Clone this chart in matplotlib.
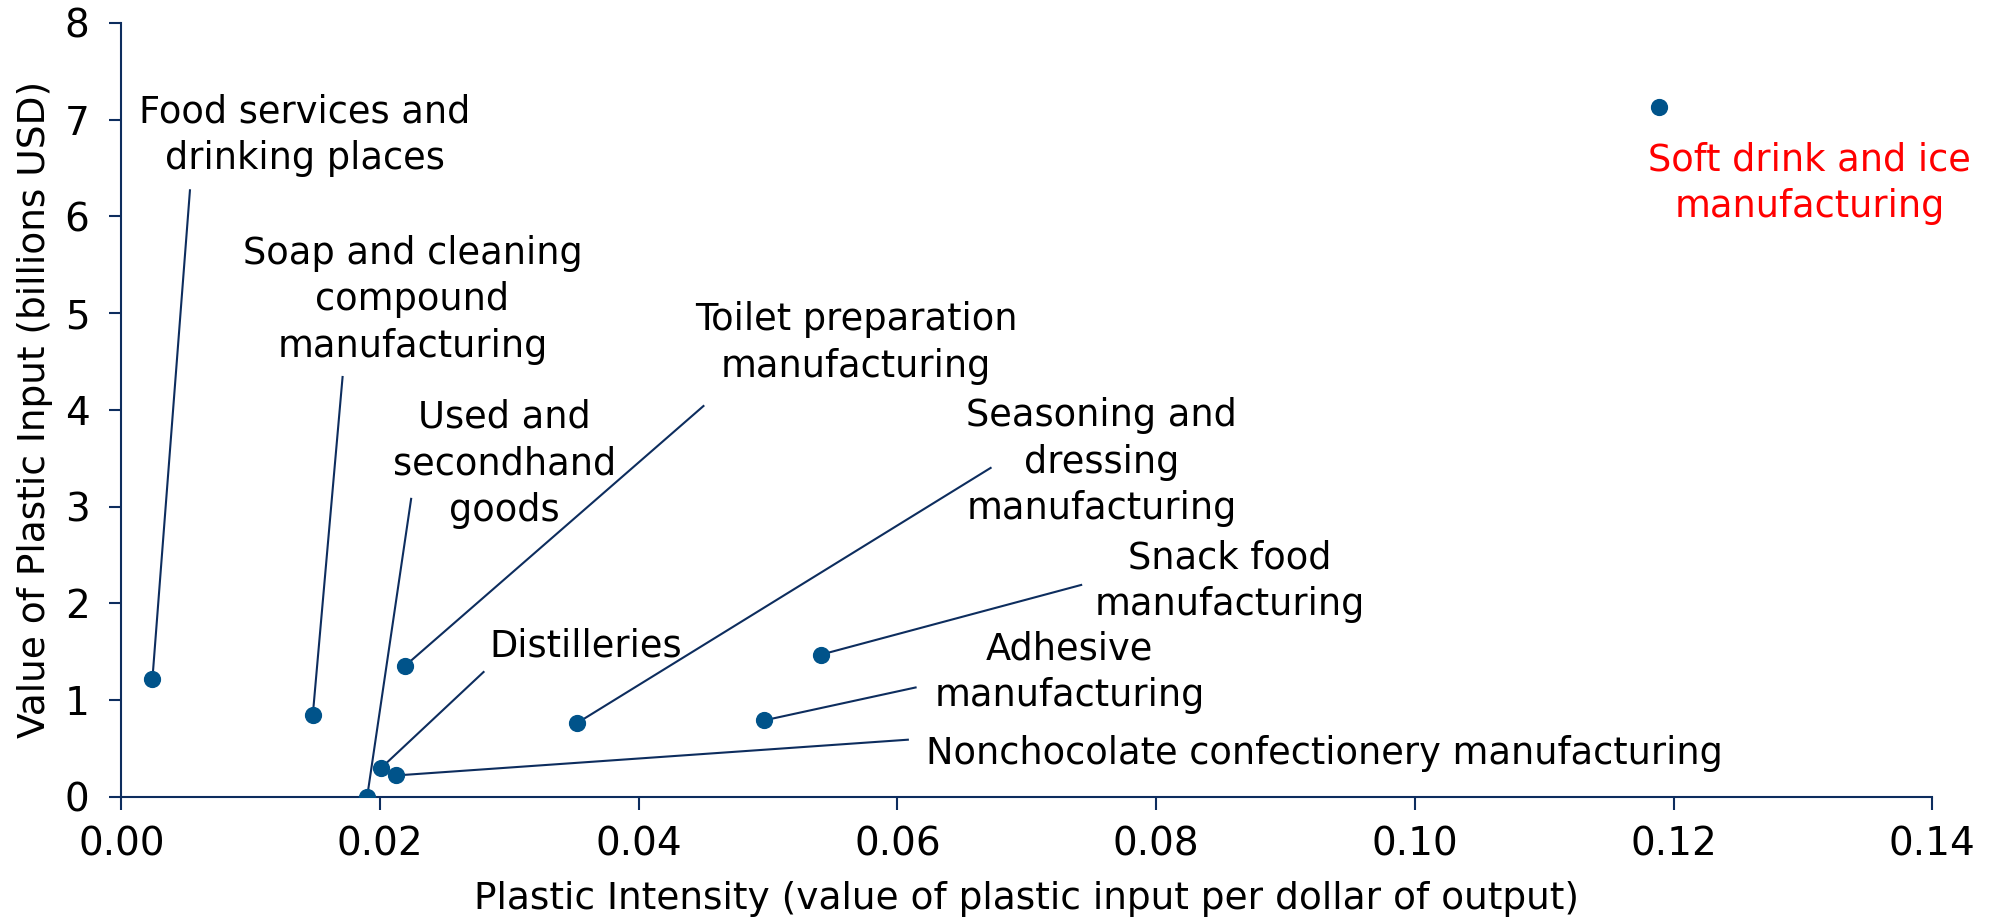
import matplotlib
matplotlib.use('Agg')
import matplotlib.pyplot as plt

# Data
sectors = [
    'Food services and\ndrinking places',
    'Soap and cleaning\ncompound\nmanufacturing',
    'Used and\nsecondhand\ngoods',
    'Distilleries',
    'Nonchocolate confectionery manufacturing',
    'Toilet preparation\nmanufacturing',
    'Seasoning and\ndressing\nmanufacturing',
    'Adhesive\nmanufacturing',
    'Snack food\nmanufacturing',
    'Soft drink and ice\nmanufacturing',
]
intensity = [0.0024, 0.0148, 0.0190, 0.0201, 0.0212, 0.0219, 0.0352, 0.0497, 0.0541, 0.1189]
plastic_value = [1.22, 0.85, 0.00, 0.30, 0.22, 1.35, 0.76, 0.79, 1.47, 7.13]

# Label layout (data coordinates): text anchor and leader-line start
label_pos = [
    (0.0142, 6.84), (0.0225, 5.14), (0.0296, 3.44), (0.0359, 1.56), (0.0622, 0.45),
    (0.0568, 4.69), (0.0758, 3.46), (0.0733, 1.29), (0.0857, 2.23), (0.1305, 6.34),
]
leader_start = [
    (0.0053, 6.27), (0.0171, 4.34), (0.0224, 3.08), (0.0280, 1.29), (0.0608, 0.59),
    (0.0450, 4.04), (0.0672, 3.40), (0.0614, 1.13), (0.0742, 2.19), None,
]

navy = '#0d2d5e'
dot = '#00538a'

plt.rcParams['font.family'] = ['DejaVu Sans']
fig, ax = plt.subplots(figsize=(19.9, 9.19), dpi=100)
fig.subplots_adjust(left=0.061, right=0.971, top=0.975, bottom=0.133)

ax.scatter(intensity, plastic_value, s=130, color=dot, zorder=3)

for i, name in enumerate(sectors):
    if leader_start[i] is not None:
        ax.plot([leader_start[i][0], intensity[i]], [leader_start[i][1], plastic_value[i]],
                color=navy, lw=1.5, zorder=2)
    color = 'red' if i == len(sectors) - 1 else 'black'
    ha = 'left' if name.startswith('Nonchocolate') else 'center'
    ax.text(label_pos[i][0], label_pos[i][1], name, ha=ha, va='center', fontsize=26.5,
            color=color, linespacing=1.33)

ax.set_xlim(0, 0.14)
ax.set_ylim(0, 8)
ax.set_xticks([0, 0.02, 0.04, 0.06, 0.08, 0.10, 0.12, 0.14])
ax.set_xticklabels(['0.00', '0.02', '0.04', '0.06', '0.08', '0.10', '0.12', '0.14'])
ax.set_yticks(range(0, 9))
for s in ['top', 'right']:
    ax.spines[s].set_visible(False)
for s in ['left', 'bottom']:
    ax.spines[s].set_color(navy)
    ax.spines[s].set_linewidth(1.5)
ax.tick_params(colors=navy, labelcolor='black', labelsize=28, length=9, width=1.5)
ax.tick_params(axis='x', pad=12)
ax.tick_params(axis='y', pad=14)
ax.set_xlabel('Plastic Intensity (value of plastic input per dollar of output)', fontsize=27,
              labelpad=12)
ax.set_ylabel('Value of Plastic Input (billions USD)', fontsize=27, labelpad=8)

fig.savefig('out.png', dpi=100)
